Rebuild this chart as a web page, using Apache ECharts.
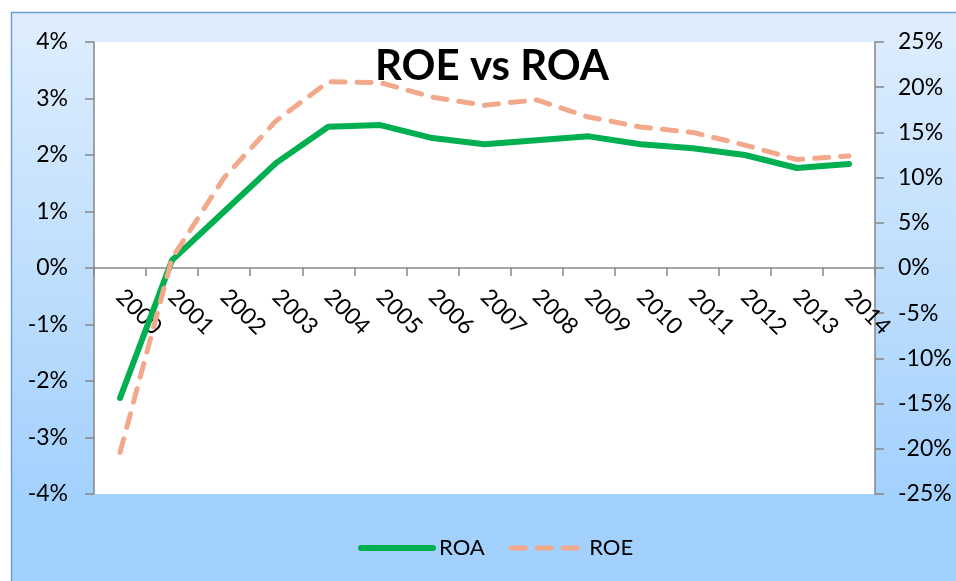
<!DOCTYPE html>
<html>
<head>
<meta charset="utf-8">
<script src="https://cdn.jsdelivr.net/npm/echarts@6/dist/echarts.min.js"></script>
<style>
  html, body { margin: 0; padding: 0; background: #fff; }
  #chart { width: 956px; height: 581px; }
</style>
</head>
<body>
<div id="chart"></div>
<script>
// data
const years = ["2000", "2001", "2002", "2003", "2004", "2005", "2006", "2007",
  "2008", "2009", "2010", "2011", "2012", "2013", "2014"];
const roa = [-2.3, 0.14, 1.0, 1.86, 2.5, 2.53, 2.3, 2.19, 2.26, 2.33, 2.19, 2.12, 2.0, 1.77, 1.84];
const roe = [-20.4, 1.1, 10.0, 16.3, 20.6, 20.5, 18.9, 18.0, 18.6, 16.7, 15.6, 15.0, 13.6, 12.0, 12.4];

const font = "Lato";
const axisGray = "#868686";
const green = "#00b050";
const salmon = "#f2a88b";

// plot box in pixels
const gridTop = 42;
const gridBottom = 87;
const plotH = 581 - gridTop - gridBottom;

const chart = echarts.init(document.getElementById("chart"));

chart.setOption({
  animation: false,
  textStyle: { fontFamily: font },
  graphic: [
    {
      type: "rect",
      z: -10,
      silent: true,
      shape: { x: 11.5, y: 12.5, width: 960, height: 580 },
      style: {
        fill: new echarts.graphic.LinearGradient(0, 0, 0, 1, [
          { offset: 0, color: "#dfeefd" },
          { offset: 0.83, color: "#a3d1fd" },
          { offset: 1, color: "#a3d1fd" },
        ]),
        stroke: "#6b9fd9",
        lineWidth: 1.5,
      },
    },
  ],
  title: {
    text: "ROE vs ROA",
    left: 487,
    textAlign: "center",
    top: 40,
    textStyle: { fontFamily: font, fontSize: 42, fontWeight: "bold", color: "#000" },
  },
  legend: {
    bottom: 22,
    left: 358,
    padding: 0,
    itemWidth: 72,
    itemHeight: 14,
    itemGap: 24,
    textStyle: { fontFamily: font, fontSize: 22, color: "#000", padding: [0, 0, 0, 1] },
    itemStyle: { opacity: 0, borderWidth: 0 },
    data: [
      { name: "ROA", lineStyle: { width: 6, color: green, type: "solid", cap: "round" } },
      { name: "ROE", lineStyle: { width: 5, color: salmon, type: [14, 12], cap: "round" } },
    ],
  },
  grid: {
    left: 94,
    right: 81,
    top: gridTop,
    bottom: gridBottom,
    show: true,
    backgroundColor: "#fff",
    borderWidth: 0,
  },
  xAxis: {
    type: "category",
    data: years,
    boundaryGap: true,
    // sit on the 0% line (middle of the plot) with labels following it
    offset: -plotH / 2,
    axisLine: { show: true, onZero: false, lineStyle: { color: axisGray, width: 1.5 } },
    axisTick: { show: true, length: 8, lineStyle: { color: axisGray, width: 1.5 } },
    axisLabel: {
      interval: 0,
      rotate: -45,
      margin: 25,
      fontFamily: font,
      fontSize: 23,
      color: "#000",
    },
    splitLine: { show: false },
  },
  yAxis: [
    {
      type: "value",
      min: -4,
      max: 4,
      interval: 1,
      position: "left",
      axisLine: { show: true, lineStyle: { color: axisGray, width: 1.5 } },
      axisTick: { show: true, length: 9, lineStyle: { color: axisGray, width: 1.5 } },
      axisLabel: { formatter: "{value}%", margin: 26, fontFamily: font, fontSize: 23, color: "#000" },
      splitLine: { show: false },
    },
    {
      type: "value",
      min: -25,
      max: 25,
      interval: 5,
      position: "right",
      axisLine: { show: true, lineStyle: { color: axisGray, width: 1.5 } },
      axisTick: { show: true, length: 9, lineStyle: { color: axisGray, width: 1.5 } },
      axisLabel: { formatter: "{value}%", margin: 23, fontFamily: font, fontSize: 23, color: "#000" },
      splitLine: { show: false },
    },
  ],
  series: [
    {
      name: "ROA",
      type: "line",
      yAxisIndex: 0,
      data: roa,
      symbol: "none",
      itemStyle: { color: green },
      lineStyle: { color: green, width: 6, cap: "round", join: "round" },
      z: 3,
    },
    {
      name: "ROE",
      type: "line",
      yAxisIndex: 1,
      data: roe,
      symbol: "none",
      itemStyle: { color: salmon },
      lineStyle: { color: salmon, width: 5, type: [14, 12], cap: "round", join: "round" },
      z: 4,
    },
  ],
});
</script>
</body>
</html>
